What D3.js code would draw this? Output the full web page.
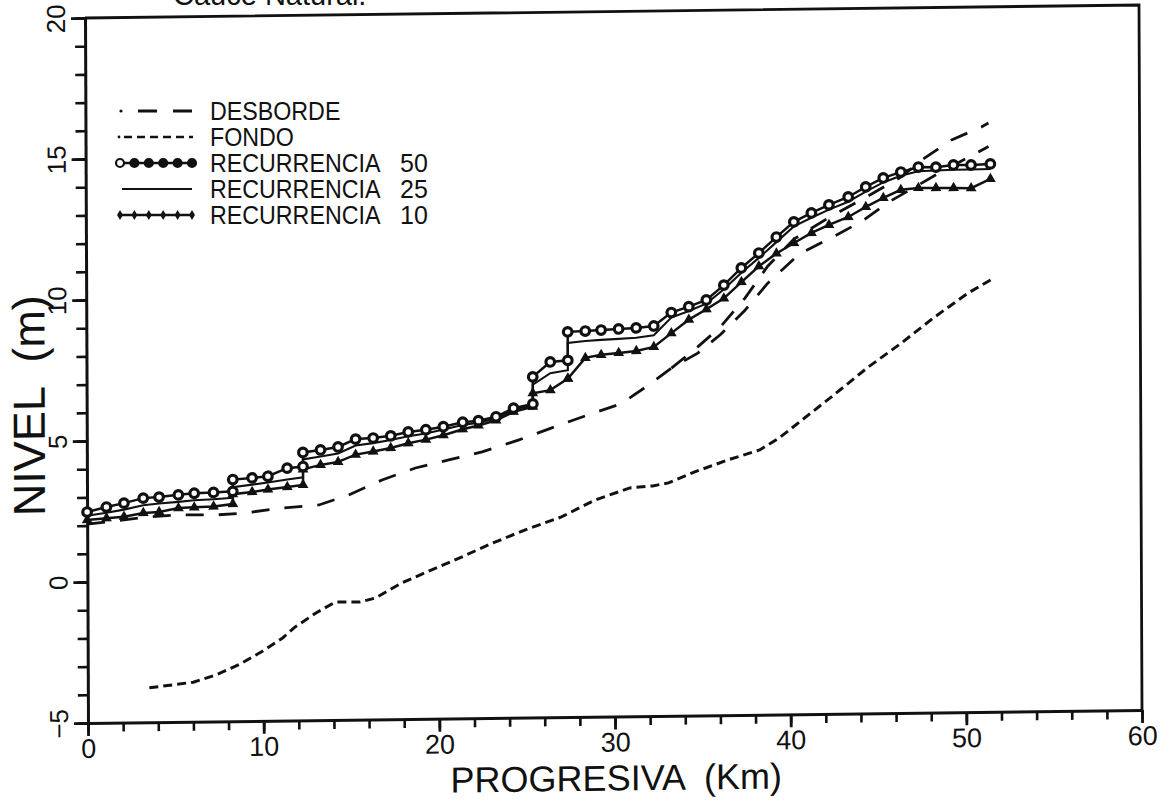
<!DOCTYPE html>
<html><head><meta charset="utf-8">
<script src="https://cdn.jsdelivr.net/npm/d3@7"></script>
<style>
html,body{margin:0;padding:0;background:#fff;}
svg text{font-family:"Liberation Sans",Arial,Helvetica,sans-serif;fill:#111;}
</style></head><body>
<svg id="chart" width="1171" height="801"></svg>
<script>
// ---- data (km, level in m) ----
const stations = [0,1.1,2.1,3.2,4.1,5.2,6.1,7.2,8.3,8.3,9.4,10.3,11.4,12.3,12.3,13.3,14.3,15.3,16.3,17.3,18.3,19.3,20.3,21.4,22.3,23.3,24.3,25.4,25.4,26.4,27.4,27.4,28.4,29.3,30.3,31.3,32.3,33.3,34.3,35.3,36.3,37.3,38.3,39.3,40.3,41.3,42.3,43.4,44.4,45.4,46.4,47.4,48.4,49.4,50.4,51.5];
const rec50 = [2.48,2.65,2.78,2.95,2.98,3.05,3.1,3.12,3.15,3.57,3.62,3.67,3.95,4.0,4.5,4.58,4.68,4.95,4.98,5.05,5.18,5.25,5.35,5.5,5.55,5.68,5.98,6.12,7.08,7.6,7.65,8.66,8.68,8.71,8.74,8.77,8.83,9.3,9.5,9.73,10.25,10.85,11.37,11.93,12.46,12.77,13.05,13.32,13.67,13.98,14.18,14.35,14.34,14.41,14.4,14.43];
const rec25 = [2.35,2.45,2.55,2.7,2.75,2.8,2.85,2.88,2.92,3.3,3.38,3.45,3.55,3.62,4.25,4.35,4.45,4.72,4.8,4.9,5.03,5.12,5.25,5.4,5.48,5.62,5.92,6.08,6.8,7.2,7.3,8.27,8.33,8.36,8.39,8.42,8.5,9.12,9.35,9.6,10.1,10.68,11.2,11.75,12.3,12.6,12.88,13.15,13.5,13.82,14.05,14.2,14.22,14.24,14.24,14.25];
const rec10 = [2.2,2.25,2.3,2.42,2.45,2.58,2.6,2.62,2.7,3.05,3.12,3.2,3.28,3.35,3.9,4.05,4.15,4.4,4.5,4.62,4.78,4.9,5.05,5.25,5.38,5.55,5.85,6.02,6.5,6.6,7.0,7.0,7.73,7.83,7.89,7.95,8.09,8.57,9.04,9.4,9.78,10.35,10.9,11.35,11.71,12.06,12.34,12.61,12.96,13.27,13.55,13.61,13.6,13.59,13.58,13.9];
const desbordeKm = [0,3.5,5.2,7.3,9.0,11.1,13.2,14.9,16.8,18.7,20.6,22.5,24.6,26.6,28.5,30.4,32.0,33.3,34.8,36.1,37.5,38.8,40.6,42.4,44.2,45.7,48.5,51.4];
const desbordeLvl = [2.05,2.28,2.34,2.32,2.38,2.54,2.63,2.97,3.49,3.9,4.17,4.44,4.85,5.29,5.7,6.08,6.74,7.33,7.85,8.5,9.35,10.3,11.32,11.87,12.46,13.12,14.1,15.05];
const desborde2Km = [33.3,34.8,36.1,37.5,38.8,40.3,42.3,44.4,46.4,47.6,49.3,51.0,51.4];
const desborde2Lvl = [7.33,8.07,8.77,9.78,10.9,11.85,12.6,13.3,14.0,14.6,15.3,15.74,15.88];
const fondoKm = [3.5,6.0,7.3,8.6,9.9,11.1,11.8,13.0,14.1,15.5,16.4,17.9,19.6,21.3,23.1,24.9,27.0,28.9,30.9,32.2,33.1,34.6,36.5,38.3,39.4,42.4,44.5,46.4,48.3,50.2,51.5];
const fondoLvl = [-3.78,-3.6,-3.35,-3.0,-2.55,-2.07,-1.69,-1.2,-0.82,-0.83,-0.69,-0.17,0.28,0.72,1.21,1.65,2.1,2.68,3.1,3.16,3.26,3.64,4.05,4.39,4.8,6.24,7.28,8.12,9.03,9.86,10.32];
const xTicks = [0,10,20,30,40,50,60];
const yTicks = [-5,0,5,10,15,20];
const legendLabels = ["DESBORDE","FONDO","RECURRENCIA","RECURRENCIA","RECURRENCIA"];
const legendNumbers = ["","","50","25","10"];
const xTitle = "PROGRESIVA  (Km)";
const yTitle = "NIVEL  (m)";
const topNote = "Cauce Natural.";

// ---- layout ----
const W = 1054, H = 705;
const svg = d3.select("#chart");
svg.append("rect").attr("width",1171).attr("height",801).attr("fill","#fff");
svg.append("text").attr("x",173).attr("y",5).attr("font-size",29).text(topNote);

const g = svg.append("g").attr("transform","matrix(1,-0.01233,0.004255,1,85,18)");
const x = d3.scaleLinear().domain([0,60]).range([0,W]);
const y = d3.scaleLinear().domain([-5,20]).range([H,0]);

// minor ticks
g.append("g").attr("transform",`translate(0,${H})`)
  .call(d3.axisBottom(x).tickValues(d3.range(0,61,2)).tickSize(9).tickSizeOuter(0).tickFormat(""))
  .call(s=>s.select(".domain").remove())
  .call(s=>s.selectAll("line").attr("stroke","#111").attr("stroke-width",2.6));
g.append("g")
  .call(d3.axisLeft(y).tickValues(d3.range(-5,21,1)).tickSize(10).tickSizeOuter(0).tickFormat(""))
  .call(s=>s.select(".domain").remove())
  .call(s=>s.selectAll("line").attr("stroke","#111").attr("stroke-width",2.6));

// major axes
const xa = g.append("g").attr("transform",`translate(0,${H})`)
  .call(d3.axisBottom(x).tickValues(xTicks).tickSize(13).tickSizeOuter(0).tickFormat(d3.format("d")));
xa.select(".domain").attr("stroke","#111").attr("stroke-width",3);
xa.selectAll("line").attr("stroke","#111").attr("stroke-width",2.8);
xa.selectAll("text").attr("y",35).attr("dy",0).attr("font-size",27).attr("fill","#111");

const ya = g.append("g")
  .call(d3.axisLeft(y).tickValues(yTicks).tickSize(14).tickSizeOuter(0).tickFormat(d3.format("d")));
ya.select(".domain").attr("stroke","#111").attr("stroke-width",3);
ya.selectAll("line").attr("stroke","#111").attr("stroke-width",2.8);
ya.selectAll("text").attr("transform","rotate(-90)").attr("x",0).attr("y",-20).attr("dy",0)
  .attr("text-anchor","middle").attr("font-size",26).attr("fill","#111");

// frame
g.append("path").attr("d",`M0,0H${W}V${H}`).attr("fill","none").attr("stroke","#111").attr("stroke-width",2.8);

// titles
g.append("text").attr("x",528).attr("y",779).attr("text-anchor","middle").attr("font-size",36)
  .style("white-space","pre").text(xTitle);
g.append("text").attr("transform","translate(-42,387) rotate(-90)").attr("text-anchor","middle")
  .attr("font-size",45).style("white-space","pre").text(yTitle);

// series
const line = d3.line().x(d=>x(d[0])).y(d=>y(d[1]));
g.append("path").datum(d3.zip(fondoKm,fondoLvl)).attr("d",line).attr("fill","none")
  .attr("stroke","#111").attr("stroke-width",3).attr("stroke-dasharray","9,5");
g.append("path").datum(d3.zip(desbordeKm,desbordeLvl)).attr("d",line).attr("fill","none")
  .attr("stroke","#111").attr("stroke-width",2.8).attr("stroke-dasharray","18,15");
g.append("path").datum(d3.zip(desborde2Km,desborde2Lvl)).attr("d",line).attr("fill","none")
  .attr("stroke","#111").attr("stroke-width",2.8).attr("stroke-dasharray","18,15");

g.append("path").datum(d3.zip(stations,rec25)).attr("d",line).attr("fill","none")
  .attr("stroke","#111").attr("stroke-width",2.1);
g.append("path").datum(d3.zip(stations,rec10)).attr("d",line).attr("fill","none")
  .attr("stroke","#111").attr("stroke-width",2.5);
g.append("path").datum(d3.zip(stations,rec50)).attr("d",line).attr("fill","none")
  .attr("stroke","#111").attr("stroke-width",2.5);

const tri = d3.symbol().type(d3.symbolTriangle).size(50);
g.append("g").selectAll("path").data(d3.zip(stations,rec10)).join("path")
  .attr("d",tri).attr("transform",d=>`translate(${x(d[0])},${y(d[1])})`).attr("fill","#111");
g.append("g").selectAll("circle").data(d3.zip(stations,rec50)).join("circle")
  .attr("cx",d=>x(d[0])).attr("cy",d=>y(d[1])).attr("r",4.3)
  .attr("fill","#fff").attr("stroke","#111").attr("stroke-width",3.2);

// legend
const lg = svg.append("g");
const rowY = [111,137,163,189,215];
legendLabels.forEach((t,i)=>{
  lg.append("text").attr("transform",`translate(210,${rowY[i]+9}) scale(0.93,1)`)
    .attr("font-size",25).text(t);
  if(legendNumbers[i]) lg.append("text").attr("x",400).attr("y",rowY[i]+9).attr("font-size",25).text(legendNumbers[i]);
});
lg.append("circle").attr("cx",121).attr("cy",rowY[0]).attr("r",1.6).attr("fill","#111");
lg.append("line").attr("x1",138).attr("x2",193).attr("y1",rowY[0]).attr("y2",rowY[0])
  .attr("stroke","#111").attr("stroke-width",2.8).attr("stroke-dasharray","19,16");
lg.append("circle").attr("cx",119).attr("cy",rowY[1]).attr("r",1.4).attr("fill","#111");
lg.append("line").attr("x1",124).attr("x2",193).attr("y1",rowY[1]).attr("y2",rowY[1])
  .attr("stroke","#111").attr("stroke-width",2.6).attr("stroke-dasharray","8,5");
lg.append("line").attr("x1",120).attr("x2",192).attr("y1",rowY[2]).attr("y2",rowY[2])
  .attr("stroke","#111").attr("stroke-width",2.4);
d3.range(6).forEach(k=>{
  lg.append("circle").attr("cx",120+k*14.4).attr("cy",rowY[2]).attr("r",4)
    .attr("fill",k===0?"#fff":"#111").attr("stroke","#111").attr("stroke-width",2.2);
});
lg.append("line").attr("x1",122).attr("x2",192).attr("y1",rowY[3]).attr("y2",rowY[3])
  .attr("stroke","#111").attr("stroke-width",2);
lg.append("line").attr("x1",120).attr("x2",192).attr("y1",rowY[4]).attr("y2",rowY[4])
  .attr("stroke","#111").attr("stroke-width",2.4);
d3.range(6).forEach(k=>{
  lg.append("path").attr("d",d3.symbol().type(d3.symbolDiamond).size(30)())
    .attr("transform",`translate(${120+k*14.4},${rowY[4]})`).attr("fill","#111");
});
</script></body></html>
